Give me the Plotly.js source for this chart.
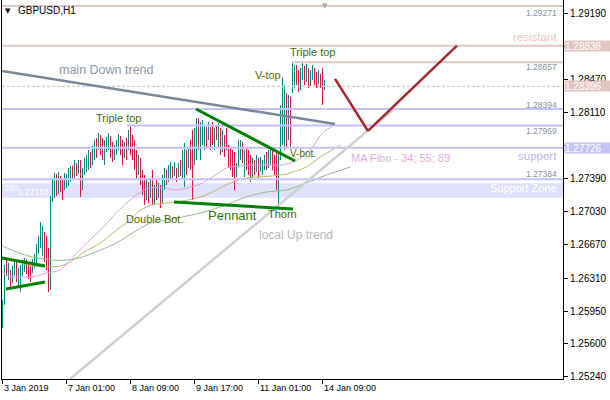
<!DOCTYPE html>
<html>
<head>
<meta charset="utf-8">
<script src="https://cdn.plot.ly/plotly-3.0.1.min.js"></script>
<style>
  html, body { margin: 0; padding: 0; background: #ffffff; }
  #chart { width: 610px; height: 400px; }
</style>
</head>
<body>
<div id="chart"></div>
<script>
// GBPUSD H1 bars, one entry per hour (index 0 = 3 Jan 2019 17:00)
const barOpen = [
1.25799,1.26049,1.26419,1.26332,1.26376,1.26267,1.26376,1.26441,1.26267,1.26202,
1.26376,1.26419,1.26485,1.26397,1.26332,1.26397,1.26463,1.26528,1.26637,1.26724,
1.26615,1.26789,1.26550,1.26485,1.26267,1.27181,1.27268,1.27409,1.27268,1.27398,
1.27311,1.27290,1.27333,1.27377,1.27398,1.27507,1.27442,1.27540,1.27464,1.27562,
1.27290,1.27485,1.27540,1.27594,1.27660,1.27572,1.27703,1.27790,1.27725,1.27844,
1.27757,1.27594,1.27725,1.27779,1.27834,1.27703,1.27616,1.27703,1.27757,1.27834,
1.27703,1.27638,1.27757,1.27725,1.27899,1.27725,1.27649,1.27540,1.27442,1.27572,
1.27398,1.27290,1.27181,1.27322,1.27203,1.27377,1.27159,1.27311,1.27203,1.27290,
1.27159,1.27377,1.27464,1.27377,1.27485,1.27507,1.27442,1.27485,1.27420,1.27529,
1.27464,1.27594,1.27681,1.27529,1.27703,1.27594,1.27594,1.27899,1.28008,1.27703,
1.27812,1.27757,1.27921,1.27834,1.27942,1.27964,1.27757,1.27942,1.27812,1.27921,
1.27703,1.27834,1.27866,1.27725,1.27681,1.27649,1.27616,1.27431,1.27540,1.27703,
1.27768,1.27464,1.27703,1.27649,1.27594,1.27420,1.27572,1.27485,1.27594,1.27485,
1.27464,1.27540,1.27649,1.27540,1.27616,1.27681,1.27594,1.27540,1.27322,1.27649,
1.28138,1.27812,1.28247,1.27866,1.28247,1.28356,1.28410,1.28595,1.28519,1.28378,
1.28508,1.28595,1.28465,1.28573,1.28421,1.28486,1.28573,1.28519,1.28443,1.28508,
1.28552,1.28378
];
const barHigh = [
1.26071,1.26452,1.26506,1.26474,1.26397,1.26441,1.26485,1.26485,1.26419,1.26452,
1.26485,1.26528,1.26517,1.26485,1.26441,1.26517,1.26572,1.26680,1.26767,1.26920,
1.26876,1.26811,1.26767,1.26637,1.27203,1.27398,1.27453,1.27442,1.27464,1.27420,
1.27398,1.27453,1.27442,1.27507,1.27529,1.27529,1.27594,1.27562,1.27594,1.27594,
1.27507,1.27616,1.27649,1.27703,1.27681,1.27747,1.27812,1.27834,1.27888,1.27866,
1.27834,1.27812,1.27844,1.27888,1.27855,1.27790,1.27757,1.27812,1.27877,1.27855,
1.27812,1.27790,1.27834,1.27921,1.27975,1.27866,1.27812,1.27703,1.27649,1.27616,
1.27485,1.27431,1.27398,1.27355,1.27398,1.27485,1.27322,1.27377,1.27344,1.27322,
1.27431,1.27507,1.27485,1.27540,1.27572,1.27529,1.27572,1.27507,1.27562,1.27594,
1.27703,1.27779,1.27703,1.27725,1.27812,1.27921,1.27942,1.28051,1.28051,1.28008,
1.28029,1.27975,1.27953,1.28008,1.27953,1.28008,1.27942,1.27975,1.27997,1.27942,
1.27921,1.27866,1.27942,1.27757,1.27725,1.27703,1.27681,1.27562,1.27812,1.27812,
1.27790,1.27703,1.27725,1.27703,1.27649,1.27616,1.27594,1.27649,1.27616,1.27627,
1.27594,1.27649,1.27681,1.27703,1.27725,1.27703,1.27649,1.27670,1.27681,1.28193,
1.28497,1.28410,1.28323,1.28301,1.28280,1.28660,1.28628,1.28628,1.28573,1.28595,
1.28650,1.28617,1.28639,1.28595,1.28573,1.28628,1.28595,1.28552,1.28573,1.28530,
1.28595,1.28465
];
const barLow = [
1.25766,1.26017,1.26332,1.26289,1.26202,1.26256,1.26332,1.26267,1.26223,1.26158,
1.26332,1.26376,1.26354,1.26300,1.26267,1.26365,1.26419,1.26474,1.26572,1.26637,
1.26550,1.26485,1.26397,1.26158,1.26180,1.27137,1.27181,1.27203,1.27224,1.27246,
1.27159,1.27268,1.27290,1.27311,1.27355,1.27377,1.27398,1.27420,1.27442,1.27192,
1.27268,1.27431,1.27464,1.27485,1.27507,1.27540,1.27594,1.27616,1.27703,1.27649,
1.27594,1.27540,1.27681,1.27703,1.27616,1.27572,1.27594,1.27649,1.27703,1.27649,
1.27540,1.27616,1.27594,1.27703,1.27649,1.27594,1.27485,1.27377,1.27431,1.27322,
1.27213,1.27105,1.27159,1.27126,1.27181,1.27105,1.27105,1.27159,1.27181,1.27072,
1.27126,1.27268,1.27322,1.27355,1.27377,1.27398,1.27420,1.27355,1.27409,1.27420,
1.27398,1.27300,1.27431,1.27507,1.27485,1.27159,1.27540,1.27594,1.27703,1.27594,
1.27757,1.27703,1.27736,1.27812,1.27703,1.27757,1.27703,1.27812,1.27725,1.27649,
1.27681,1.27627,1.27703,1.27518,1.27485,1.27409,1.27268,1.27409,1.27518,1.27594,
1.27562,1.27409,1.27485,1.27431,1.27355,1.27398,1.27431,1.27464,1.27398,1.27464,
1.27431,1.27485,1.27485,1.27507,1.27540,1.27485,1.27431,1.27268,1.27072,1.27594,
1.27757,1.27703,1.27736,1.27812,1.27736,1.28323,1.28378,1.28410,1.28334,1.28356,
1.28465,1.28410,1.28443,1.28378,1.28399,1.28465,1.28410,1.28378,1.28421,1.28378,
1.28193,1.28356
];
const barClose = [
1.26049,1.26397,1.26354,1.26441,1.26234,1.26397,1.26452,1.26289,1.26376,1.26419,
1.26463,1.26496,1.26376,1.26321,1.26289,1.26485,1.26550,1.26659,1.26746,1.26887,
1.26833,1.26528,1.26441,1.26234,1.27159,1.27355,1.27420,1.27246,1.27420,1.27290,
1.27203,1.27420,1.27409,1.27475,1.27507,1.27398,1.27562,1.27442,1.27572,1.27268,
1.27485,1.27594,1.27627,1.27681,1.27540,1.27725,1.27790,1.27649,1.27855,1.27681,
1.27616,1.27779,1.27823,1.27866,1.27649,1.27594,1.27725,1.27790,1.27855,1.27681,
1.27572,1.27757,1.27616,1.27899,1.27703,1.27627,1.27529,1.27420,1.27594,1.27377,
1.27268,1.27159,1.27355,1.27159,1.27355,1.27159,1.27290,1.27203,1.27311,1.27116,
1.27398,1.27485,1.27355,1.27507,1.27551,1.27420,1.27551,1.27398,1.27529,1.27464,
1.27681,1.27725,1.27485,1.27703,1.27540,1.27246,1.27899,1.28008,1.27757,1.27975,
1.28008,1.27942,1.27768,1.27975,1.27747,1.27790,1.27921,1.27834,1.27964,1.27703,
1.27877,1.27660,1.27725,1.27572,1.27507,1.27464,1.27322,1.27540,1.27779,1.27790,
1.27594,1.27681,1.27507,1.27464,1.27398,1.27594,1.27464,1.27616,1.27431,1.27594,
1.27572,1.27627,1.27529,1.27681,1.27703,1.27529,1.27464,1.27322,1.27649,1.28138,
1.28410,1.28378,1.27812,1.28269,1.27921,1.28628,1.28595,1.28443,1.28378,1.28573,
1.28628,1.28443,1.28617,1.28410,1.28552,1.28606,1.28443,1.28410,1.28552,1.28410,
1.28247,1.28443
];

// "MA Fibo" moving averages (34, 55, 89), displaced forward
const ma34Idx = [0,4,9,15,22,25,29,34,40,49,57,65,70,73,80,87,94,99,105,112,119,129,139,144,149,155,160,166];
const ma34 = [1.26376,1.26321,1.26321,1.26321,1.26365,1.26376,1.26397,1.26506,1.26648,1.26833,1.27018,1.27181,1.27257,1.27290,1.27290,1.27268,1.27300,1.27333,1.27409,1.27507,1.27529,1.27540,1.27540,1.27562,1.27616,1.27736,1.27888,1.27975];
const ma55Idx = [0,9,15,22,29,34,40,49,57,62,69,75,82,90,99,105,114,122,135,142,147,152,159,169];
const ma55 = [1.26539,1.26474,1.26441,1.26430,1.26441,1.26485,1.26582,1.26691,1.26833,1.26909,1.27050,1.27105,1.27126,1.27148,1.27192,1.27246,1.27344,1.27398,1.27420,1.27442,1.27475,1.27518,1.27627,1.27757];
const ma89Idx = [0,7,15,24,32,40,49,57,65,74,82,90,99,109,122,132,142,152,162,174];
const ma89 = [1.26659,1.26593,1.26539,1.26506,1.26506,1.26539,1.26615,1.26691,1.26800,1.26909,1.26941,1.26974,1.27018,1.27083,1.27192,1.27246,1.27268,1.27344,1.27431,1.27518];

// time axis labels (every 32 bars)
const timeTickIdx = [0, 32, 64, 96, 128, 160];
const timeTickText = ["3 Jan 2019", "7 Jan 01:00", "8 Jan 09:00", "9 Jan 17:00", "11 Jan 01:00", "14 Jan 09:00"];

// price scale; labels under the highlighted price tags are left blank
const priceTicks = [1.29190,1.28830,1.28470,1.28110,1.27750,1.27390,1.27030,1.26670,1.26310,1.25950,1.25600,1.25240];
const priceTickText = ["1.29190","","1.28470","1.28110","","1.27390","1.27030","1.26670","1.26310","1.25950","1.25600","1.25240"];

// horizontal levels
const resistLevels = [1.29271, 1.28838];
const tripleTopLevel = 1.28657;
const bidLevel = 1.28396;
const supportLevels = [1.28149, 1.27726, 1.27384];
const pennantTopLevel = 1.27969;
const supportZone = [1.27183, 1.27340];

// analysis lines: [bar index, price]
const mainDownTrend = [[-0.25, 1.28563], [166.25, 1.27986]];
const localUpTrend = [[33.75, 1.25211], [196.25, 1.28160]];
const pennantUpper = [[96.75, 1.28149], [146.25, 1.27583]];
const pennantLower = [[85.75, 1.27137], [145.25, 1.27061]];
const flagUpper = [[-0.25, 1.26528], [21.25, 1.26441]];
const flagLower = [[1.75, 1.26191], [21.25, 1.26267]];
const forecastPath = [[166.25, 1.28476], [182.75, 1.27910], [227.25, 1.28838]];

[barHigh, barLow, barClose].forEach(a => {
  if (a.length !== barOpen.length) throw new Error('bar arrays differ in length');
});
const barIdx = barOpen.map((_, i) => i);

const FONT = 'Liberation Sans, Arial, sans-serif';
const ROSE = '#dfc8c4';
const LAV = '#c2c2f6';

const traces = [
  {
    type: 'ohlc', x: barIdx, open: barOpen, high: barHigh, low: barLow, close: barClose,
    tickwidth: 0,
    increasing: { line: { color: '#008a8a', width: 1 } },
    decreasing: { line: { color: '#e0143c', width: 1 } },
    hoverinfo: 'skip'
  },
  { type: 'scatter', mode: 'lines', x: ma89Idx, y: ma89, line: { color: '#8fbc8f', width: 1, shape: 'spline', smoothing: 0.8 }, hoverinfo: 'skip' },
  { type: 'scatter', mode: 'lines', x: ma55Idx, y: ma55, line: { color: '#bdb76b', width: 1, shape: 'spline', smoothing: 0.8 }, hoverinfo: 'skip' },
  { type: 'scatter', mode: 'lines', x: ma34Idx, y: ma34, line: { color: '#dda0dd', width: 1, shape: 'spline', smoothing: 0.8 }, hoverinfo: 'skip' }
];

const shapes = [];
function hline(y, color, width, x0, dash) {
  shapes.push({
    type: 'line', xref: x0 === undefined ? 'paper' : 'x', yref: 'y',
    x0: x0 === undefined ? 0 : x0, x1: x0 === undefined ? 1 : 280.25, y0: y, y1: y,
    line: { color: color, width: width, dash: dash || 'solid' }, layer: 'above'
  });
}
function seg(pts, color, width) {
  for (let k = 0; k < pts.length - 1; k++) {
    shapes.push({
      type: 'line', xref: 'x', yref: 'y',
      x0: pts[k][0], y0: pts[k][1], x1: pts[k + 1][0], y1: pts[k + 1][1],
      line: { color: color, width: width }, layer: 'above'
    });
  }
}
// support zone behind the bars
shapes.push({
  type: 'rect', xref: 'paper', yref: 'y', x0: 0, x1: 1, y0: supportZone[0], y1: supportZone[1],
  fillcolor: '#e0e0fa', line: { width: 0 }, layer: 'below'
});
resistLevels.forEach(v => hline(v, ROSE, 2));
hline(tripleTopLevel, ROSE, 2, 144.75);
hline(bidLevel, ROSE, 1.3, undefined, '3px,2px');
hline(supportLevels[0], LAV, 2);
hline(pennantTopLevel, LAV, 2, 62.25);
hline(supportLevels[1], LAV, 2);
hline(supportLevels[2], LAV, 2);

seg(localUpTrend, '#d0d0d0', 2.5);
seg(mainDownTrend, '#778899', 2.5);
seg(pennantUpper, '#008000', 3);
seg(pennantLower, '#008000', 3);
seg(flagUpper, '#008000', 3);
seg(flagLower, '#008000', 3);
seg(forecastPath, '#a52a2a', 2.5);

const ann = [];
function txt(x, y, s, size, color, opts) {
  ann.push(Object.assign({
    x: x, y: y, xref: 'x', yref: 'y', text: s, showarrow: false,
    font: { family: FONT, size: size, color: color },
    xanchor: 'center', yanchor: 'middle', borderpad: 0
  }, opts || {}));
}
const labelGreen = '#3d6e00';
const labelOlive = '#5a6a00';
txt(51.75, 1.28573, 'main Down trend', 12.5, '#8d98ab');
txt(57.75, 1.28051, 'Triple top', 11, labelGreen);
txt(154.75, 1.28769, 'Triple top', 11, labelGreen);
txt(132.75, 1.28519, 'V-top', 11, labelOlive);
txt(150.25, 1.27670, 'V-bot.', 10, labelOlive);
txt(75.75, 1.26952, 'Double Bot.', 11, labelGreen);
txt(114.75, 1.26985, 'Pennant', 13, '#1d7a1d');
txt(139.75, 1.27007, 'Thorn', 11, labelGreen);
txt(146.75, 1.26778, 'local Up trend', 12, '#b8b8b8');
txt(198.75, 1.27616, 'MA Fibo - 34; 55; 89', 11, '#e4ace4');

// right-hand level captions
const RX = (558 - 2) / 561;
function rtxt(y, s, size, color) {
  ann.push({ x: RX, y: y, xref: 'paper', yref: 'y', text: s, showarrow: false,
    font: { family: FONT, size: size, color: color }, xanchor: 'right', yanchor: 'middle', borderpad: 0 });
}
rtxt(1.29194, '1.29271', 8.5, '#8792a2');
rtxt(1.28932, 'resistant', 11.5, '#e2c6c6');
rtxt(1.28606, '1.28657', 8.5, '#8792a2');
rtxt(1.28193, '1.28394', 8.5, '#8792a2');
rtxt(1.27910, '1.27969', 8.5, '#8792a2');
rtxt(1.27638, 'support', 11.5, '#b8b8f0');
rtxt(1.27442, '1.27384', 8.5, '#8792a2');
rtxt(1.27290, 'Support Zone', 11, '#ffffff');

// zone captions on the left
ann.push({ x: 0.001, y: 1.27290, xref: 'paper', yref: 'y', text: '320', showarrow: false,
  font: { family: FONT, size: 8.5, color: '#ffffff' }, xanchor: 'left', yanchor: 'middle', borderpad: 0 });
ann.push({ x: 0.026, y: 1.27246, xref: 'paper', yref: 'y', text: '1.27183', showarrow: false,
  font: { family: FONT, size: 8.5, color: '#ffffff' }, xanchor: 'left', yanchor: 'middle', borderpad: 0 });

// symbol caption
ann.push({ x: 0.004, y: 1 - 11 / 379, xref: 'paper', yref: 'paper', text: '▼', showarrow: false,
  font: { family: 'DejaVu Sans', size: 7, color: '#000' }, xanchor: 'left', yanchor: 'middle', borderpad: 0 });
ann.push({ x: 0.027, y: 1 - 11 / 379, xref: 'paper', yref: 'paper', text: 'GBPUSD,H1', showarrow: false,
  font: { family: FONT, size: 10, color: '#000' }, xanchor: 'left', yanchor: 'middle', borderpad: 0 });
// period separator marker
ann.push({ x: 161.25, y: 1.29272, xref: 'x', yref: 'y', text: '▼', showarrow: false,
  font: { family: 'DejaVu Sans', size: 7, color: '#a8a8a8' }, xanchor: 'center', yanchor: 'middle', borderpad: 0 });

// highlighted prices on the scale
const AX = (564 - 2) / 561;
function tag(y, s, bg) {
  ann.push({ x: AX, y: y, xref: 'paper', yref: 'y', text: s, showarrow: false,
    font: { family: FONT, size: 10, color: '#ffffff' }, bgcolor: bg,
    xanchor: 'left', yanchor: 'middle', align: 'left', width: 46, height: 10, borderpad: 0 });
}
tag(1.28838, '1.28838', '#dfc6c0');
tag(bidLevel, '1.28396', '#dfc6c0');
tag(1.27726, '1.27726', '#c4c4f4');

// time labels, left-aligned on their ticks
timeTickIdx.forEach((t, k) => {
  ann.push({ x: t, y: 0, xref: 'x', yref: 'paper', text: timeTickText[k], showarrow: false,
    font: { family: FONT, size: 9, color: '#000' }, xanchor: 'left', yanchor: 'top',
    xshift: 0, yshift: -3, borderpad: 0 });
});

const layout = {
  width: 610, height: 400,
  margin: { l: 2, r: 47, t: 0, b: 21, pad: 0 },
  paper_bgcolor: '#ffffff', plot_bgcolor: '#ffffff',
  showlegend: false,
  xaxis: {
    range: [-0.25, 280.25], showgrid: false, zeroline: false,
    showline: true, linecolor: '#000', linewidth: 1,
    ticks: 'outside', ticklen: 4, tickcolor: '#000', tickvals: timeTickIdx,
    showticklabels: false, rangeslider: { visible: false }, fixedrange: true
  },
  yaxis: {
    side: 'right', range: [1.25211, 1.29335], showgrid: false, zeroline: false,
    showline: true, mirror: true, linecolor: '#000', linewidth: 1,
    ticks: 'outside', ticklen: 4, tickcolor: '#000',
    tickvals: priceTicks, ticktext: priceTickText,
    tickfont: { family: FONT, size: 10, color: '#000' }, fixedrange: true
  },
  shapes: shapes,
  annotations: ann
};

Plotly.newPlot('chart', traces, layout, { staticPlot: true, displayModeBar: false });
</script>
</body>
</html>
